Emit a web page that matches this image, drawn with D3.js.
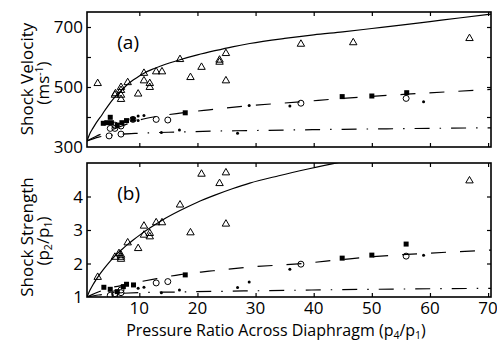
<!DOCTYPE html>
<html>
<head>
<meta charset="utf-8">
<script src="https://cdn.jsdelivr.net/npm/d3@7"></script>
<style>
  body { margin: 0; background: #fff; }
  svg { display: block; }
  text { font-family: "Open Sans", "Noto Sans", sans-serif; fill: #000; }
</style>
</head>
<body>
<div id="chart"></div>
<script>
// tick values
const xTicks = [10, 20, 30, 40, 50, 60, 70];
const velTicks = [400, 500, 600, 700];
const velLabels = [300, 500, 700];
const strTicks = [2, 3, 4];
const strLabels = [1, 2, 3, 4];

// theory curves, [p4/p1, value]
const solidA = [[1,320],[1.5,345],[2,362],[2.5,378],[3,392],[3.5,405],[4,420],[4.5,434],[5.6,462],[7,490],[8,509],[9,524],[10,537],[10.8,546],[12,557],[13.7,570],[17,591],[20,607],[23,621],[26,634],[29,645],[35,662],[40,674],[45,684],[50,695],[55,706],[60,718],[65,730],[70.5,743]];
const dashA = [[1,320],[2.5,335],[4.5,351],[7,370],[10,390],[13,402],[17,413],[22,424],[28,436],[38,451],[45,462],[50,469],[56,476],[70.5,492]];
const dashDotA = [[1,320],[3,333],[6,341],[10,346],[17,350],[23,353],[30,355],[45,359],[70.5,364]];
const solidB = [[1,1],[1.5,1.2],[2,1.36],[2.5,1.5],[3,1.63],[4,1.86],[5,2.07],[6,2.26],[7,2.42],[8,2.57],[9,2.71],[10,2.84],[12,3.08],[14,3.3],[17,3.58],[20,3.83],[23,4.04],[26,4.23],[29,4.4],[34,4.62],[39,4.82],[45,5.04],[50,5.2]];
const dashB = [[1,1],[2.5,1.12],[5,1.27],[8,1.38],[10,1.45],[13,1.55],[17,1.67],[22,1.77],[28,1.88],[38,2.0],[45,2.12],[50,2.2],[56,2.27],[70.5,2.4]];
const dashDotB = [[1,1],[3,1.06],[6,1.1],[10,1.13],[17,1.15],[28,1.18],[45,1.22],[70.5,1.26]];

// measurements, panel (a) shock velocity
const triA = [[2.84,512],[5.8,473],[5.9,478],[6.85,499],[6.85,489],[6.85,473],[6.85,459],[8,515],[9.8,477],[10.8,546],[10.8,521],[11.8,512],[11.8,499],[12.9,551],[13.9,551],[17,592],[18.8,532],[20.7,566],[23.8,590],[23.8,583],[24.9,612],[24.9,521],[37.8,643],[46.8,648],[66.8,662]];
const sqA = [[3.8,379],[4.4,381],[5,399],[5.2,381],[6.2,373],[7,381],[7.8,388],[8.9,392],[17.9,414],[44.9,468],[50,470],[56,481]];
const circA = [[4.8,337],[6.85,343],[5,362],[5.8,362],[5.8,373],[6.85,370],[8.9,392],[12.9,392],[14.9,390],[37.8,446],[55.9,462]];
const dotA = [[9.8,403],[10.8,405],[9.8,388],[13.8,348],[16.9,357],[26.9,346],[28.9,438],[35.9,437],[58.9,451]];

// measurements, panel (b) shock strength
const triB = [[2.84,1.59],[5.8,2.19],[6.5,2.3],[6.85,2.25],[6.85,2.19],[6.85,2.13],[8,2.62],[9.8,2.45],[10.8,3.12],[10.8,2.85],[11.8,2.9],[11.8,2.8],[12.9,3.22],[13.9,3.22],[17,3.75],[18.8,2.92],[20.7,4.67],[23.8,4.39],[24.9,4.71],[24.9,3.18],[66.8,4.47]];
const sqB = [[3.9,1.29],[5,1.23],[6.2,1.16],[7.25,1.31],[7.8,1.38],[9,1.36],[17.9,1.66],[44.9,2.16],[50,2.25],[55.9,2.58]];
const circB = [[5,1.05],[5.8,1.06],[5.8,1.1],[6.85,1.13],[6.85,1.21],[12.9,1.42],[14.9,1.46],[37.8,1.98],[55.9,2.22]];
const dotB = [[9.8,1.26],[10.8,1.29],[13.8,1.13],[16.9,1.21],[26.9,1.28],[28.9,1.45],[35.9,1.83],[58.9,2.25]];

const W = 497, H = 346;
const left = 87, right = 491;

const svg = d3.select("#chart").append("svg")
  .attr("width", W)
  .attr("height", H);

const x = d3.scaleLinear().domain([1, 70.5]).range([left, right]);
const yA = d3.scaleLinear().domain([300, 750]).range([147, 12]);
const yB = d3.scaleLinear().domain([1, 5]).range([297, 163]);

function panel(id, y, yTicks, yLabels, curves, tri, sq, circ, dot, tag, showX) {
  const [top, bottom] = [y.range()[1], y.range()[0]];
  const g = svg.append("g");

  g.append("clipPath").attr("id", "clip" + id)
    .append("rect")
    .attr("x", left).attr("y", top)
    .attr("width", right - left).attr("height", bottom - top);

  const plot = g.append("g").attr("clip-path", `url(#clip${id})`);

  const line = d3.line()
    .x(d => x(d[0]))
    .y(d => y(d[1]))
    .curve(d3.curveMonotoneX);

  curves.forEach(c => {
    plot.append("path")
      .attr("d", line(c.data))
      .attr("fill", "none")
      .attr("stroke", "#000")
      .attr("stroke-width", 1.2)
      .attr("stroke-dasharray", c.dash);
  });

  plot.selectAll(".tri").data(tri).enter()
    .append("path")
    .attr("transform", d => `translate(${x(d[0])},${y(d[1])})`)
    .attr("d", d3.symbol(d3.symbolTriangle).size(24))
    .attr("fill", "none")
    .attr("stroke", "#000")
    .attr("stroke-width", 1);

  plot.selectAll(".sq").data(sq).enter()
    .append("rect")
    .attr("x", d => x(d[0]) - 2.5)
    .attr("y", d => y(d[1]) - 2.5)
    .attr("width", 5).attr("height", 5)
    .attr("fill", "#000");

  plot.selectAll(".circ").data(circ).enter()
    .append("circle")
    .attr("cx", d => x(d[0]))
    .attr("cy", d => y(d[1]))
    .attr("r", 3)
    .attr("fill", "none")
    .attr("stroke", "#000")
    .attr("stroke-width", 1);

  plot.selectAll(".dot").data(dot).enter()
    .append("circle")
    .attr("cx", d => x(d[0]))
    .attr("cy", d => y(d[1]))
    .attr("r", 1.5)
    .attr("fill", "#000");

  // axes, ticks pointing inward on all four sides
  const tick = 4;
  g.append("g").attr("transform", `translate(0,${bottom})`)
    .call(d3.axisTop(x).tickValues(xTicks).tickSize(tick).tickFormat(""));
  g.append("g").attr("transform", `translate(0,${top})`)
    .call(d3.axisBottom(x).tickValues(xTicks).tickSize(tick).tickFormat(""));
  g.append("g").attr("transform", `translate(${left},0)`)
    .call(d3.axisRight(y).tickValues(yTicks).tickSize(tick).tickFormat(""));
  g.append("g").attr("transform", `translate(${right},0)`)
    .call(d3.axisLeft(y).tickValues(yTicks).tickSize(tick).tickFormat(""));
  g.selectAll(".domain").remove();
  g.selectAll(".tick line").attr("stroke", "#000").attr("stroke-width", 1.2);

  g.append("rect")
    .attr("x", left).attr("y", top)
    .attr("width", right - left).attr("height", bottom - top)
    .attr("fill", "none")
    .attr("stroke", "#000")
    .attr("stroke-width", 1.6);

  g.selectAll(".ylab").data(yLabels).enter()
    .append("text")
    .attr("x", left - 4)
    .attr("y", d => y(d))
    .attr("dy", "0.36em")
    .attr("text-anchor", "end")
    .style("font-size", "17px")
    .text(d => d);

  if (showX) {
    g.selectAll(".xlab").data(xTicks).enter()
      .append("text")
      .attr("x", d => x(d))
      .attr("y", bottom + 17)
      .attr("text-anchor", "middle")
      .style("font-size", "17px")
      .text(d => d);
  }

  g.append("text")
    .attr("x", x(6.2))
    .attr("y", top + 37)
    .style("font-size", "19px")
    .text(tag);
}

panel("A", yA, velTicks, velLabels, [
  { data: solidA, dash: null },
  { data: dashA, dash: "15,14" },
  { data: dashDotA, dash: "15,10,1.5,10" }
], triA, sqA, circA, dotA, "(a)", false);

panel("B", yB, strTicks, strLabels, [
  { data: solidB, dash: null },
  { data: dashB, dash: "15,14" },
  { data: dashDotB, dash: "15,10,1.5,10" }
], triB, sqB, circB, dotB, "(b)", true);

// axis titles
svg.append("text")
  .attr("x", 276)
  .attr("y", 336)
  .attr("text-anchor", "middle")
  .style("font-size", "16px")
  .html('Pressure Ratio Across Diaphragm (p<tspan dy="3" font-size="10.5px">4</tspan><tspan dy="-3">/p</tspan><tspan dy="3" font-size="10.5px">1</tspan><tspan dy="-3">)</tspan>');

svg.append("text")
  .attr("transform", "translate(33,79) rotate(-90)")
  .attr("text-anchor", "middle")
  .style("font-size", "17px")
  .text("Shock Velocity");
svg.append("text")
  .attr("transform", "translate(49,83) rotate(-90)")
  .attr("text-anchor", "middle")
  .style("font-size", "17px")
  .html('(ms<tspan dy="-6" font-size="10.5px">-1</tspan><tspan dy="6">)</tspan>');

svg.append("text")
  .attr("transform", "translate(33,237) rotate(-90)")
  .attr("text-anchor", "middle")
  .style("font-size", "17px")
  .text("Shock Strength");
svg.append("text")
  .attr("transform", "translate(49,241) rotate(-90)")
  .attr("text-anchor", "middle")
  .style("font-size", "17px")
  .html('(p<tspan dy="3" font-size="10.5px">2</tspan><tspan dy="-3">/p</tspan><tspan dy="3" font-size="10.5px">1</tspan><tspan dy="-3">)</tspan>');
</script>
</body>
</html>
